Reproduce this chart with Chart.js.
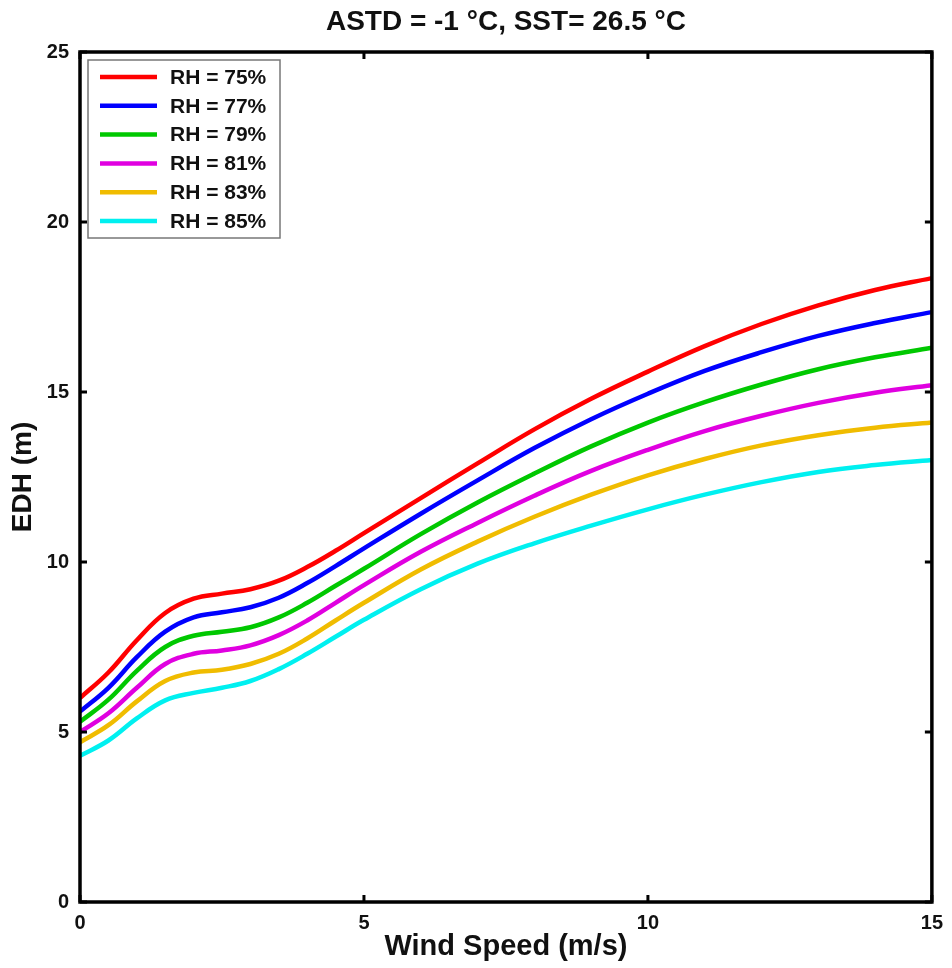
<!DOCTYPE html>
<html>
<head>
<meta charset="utf-8">
<script src="https://cdn.jsdelivr.net/npm/chart.js@4/dist/chart.umd.min.js"></script>
<style>
  html, body { margin:0; padding:0; background:#fff; }
  #wrap { width:952px; height:968px; }
</style>
</head>
<body>
<div id="wrap"><canvas id="edhChart" width="952" height="968"></canvas></div>
<script>
//Wind speed samples (m/s)
var windSpeed = [0, 0.5, 1, 1.5, 2, 2.5, 3, 3.5, 4, 4.5, 5, 6, 7, 8, 9, 10, 11, 12, 13, 14, 15];

//EDH (m), one array per relative humidity
var rh75 = [6.0, 6.75, 7.7, 8.5, 8.92, 9.07, 9.2, 9.45, 9.85, 10.33, 10.85, 11.88, 12.9, 13.9, 14.8, 15.6, 16.35, 17.0, 17.55, 18.0, 18.35];
var rh77 = [5.6, 6.3, 7.2, 7.95, 8.37, 8.52, 8.67, 8.95, 9.38, 9.88, 10.4, 11.42, 12.4, 13.35, 14.2, 14.95, 15.62, 16.17, 16.65, 17.03, 17.35];
var rh79 = [5.3, 5.95, 6.8, 7.5, 7.83, 7.95, 8.08, 8.37, 8.8, 9.3, 9.8, 10.82, 11.75, 12.6, 13.4, 14.1, 14.7, 15.22, 15.67, 16.02, 16.3];
var rh81 = [5.0, 5.55, 6.3, 7.0, 7.3, 7.4, 7.55, 7.85, 8.28, 8.8, 9.32, 10.3, 11.15, 11.95, 12.68, 13.3, 13.85, 14.3, 14.68, 14.98, 15.2];
var rh83 = [4.7, 5.2, 5.9, 6.5, 6.75, 6.83, 7.0, 7.3, 7.75, 8.28, 8.8, 9.78, 10.6, 11.33, 11.98, 12.55, 13.03, 13.43, 13.73, 13.95, 14.1];
var rh85 = [4.3, 4.75, 5.4, 5.93, 6.15, 6.3, 6.5, 6.85, 7.3, 7.8, 8.3, 9.2, 9.95, 10.55, 11.07, 11.55, 11.98, 12.35, 12.65, 12.85, 13.0];

var seriesLabels = ["RH = 75%", "RH = 77%", "RH = 79%", "RH = 81%", "RH = 83%", "RH = 85%"];
var seriesColors = ["#ff0000", "#0000ff", "#00c800", "#e000e0", "#f0bc00", "#00f0f0"];
var xTicks = [0, 5, 10, 15];
var yTicks = [0, 5, 10, 15, 20, 25];
var chartTitle = "ASTD = -1 \u00B0C, SST= 26.5 \u00B0C";

var fontName = "'Liberation Sans', Arial, sans-serif";

function toPoints(values){
  var pts = [];
  for(var i = 0; i < windSpeed.length; i++){
    pts.push({x: windSpeed[i], y: values[i]});
  }
  return pts;
}

var allSeries = [rh75, rh77, rh79, rh81, rh83, rh85];
var datasets = [];
for(var s = 0; s < allSeries.length; s++){
  datasets.push({
    label: seriesLabels[s],
    data: toPoints(allSeries[s]),
    borderColor: seriesColors[s],
    backgroundColor: seriesColors[s],
    borderWidth: 4.5,
    pointRadius: 0,
    tension: 0.4,
    fill: false
  });
}

//Draws the MATLAB style box, inward ticks, title and the legend inside the plot
var boxPlugin = {
  id: "matlabBox",
  afterDatasetsDraw: function(chart){
    var ctx = chart.ctx;
    var a = chart.chartArea;
    var xs = chart.scales.x;
    var ys = chart.scales.y;
    var tick = 7;

    ctx.save();
    ctx.strokeStyle = "#000";
    ctx.lineWidth = 3.5;
    ctx.strokeRect(a.left, a.top, a.right - a.left, a.bottom - a.top);

    ctx.lineWidth = 3;
    ctx.beginPath();
    xTicks.forEach(function(v){
      var px = xs.getPixelForValue(v);
      ctx.moveTo(px, a.bottom); ctx.lineTo(px, a.bottom - tick);
      ctx.moveTo(px, a.top); ctx.lineTo(px, a.top + tick);
    });
    yTicks.forEach(function(v){
      var py = ys.getPixelForValue(v);
      ctx.moveTo(a.left, py); ctx.lineTo(a.left + tick, py);
      ctx.moveTo(a.right, py); ctx.lineTo(a.right - tick, py);
    });
    ctx.stroke();

    //Title, centred over the plot box
    ctx.fillStyle = "#111";
    ctx.font = "bold 28px " + fontName;
    ctx.textAlign = "center";
    ctx.textBaseline = "middle";
    ctx.fillText(chartTitle, (a.left + a.right) / 2, 22);

    //Legend box
    var lx = a.left + 8, ly = a.top + 8, lw = 192, lh = 178;
    ctx.fillStyle = "#fff";
    ctx.fillRect(lx, ly, lw, lh);
    ctx.strokeStyle = "#777";
    ctx.lineWidth = 1.5;
    ctx.strokeRect(lx, ly, lw, lh);

    ctx.font = "bold 21px " + fontName;
    ctx.textBaseline = "middle";
    ctx.textAlign = "left";
    for(var i = 0; i < chart.data.datasets.length; i++){
      var ds = chart.data.datasets[i];
      var ry = ly + 17 + i * 28.8;
      ctx.strokeStyle = ds.borderColor;
      ctx.lineWidth = 4.5;
      ctx.beginPath();
      ctx.moveTo(lx + 12, ry);
      ctx.lineTo(lx + 69, ry);
      ctx.stroke();
      ctx.fillStyle = "#111";
      ctx.fillText(ds.label, lx + 82, ry + 1);
    }
    ctx.restore();
  }
};

new Chart(document.getElementById("edhChart"), {
  type: "line",
  data: {datasets: datasets},
  plugins: [boxPlugin],
  options: {
    responsive: false,
    animation: false,
    layout: {padding: {left: 0, right: 17, top: 52, bottom: 0}},
    plugins: {
      legend: {display: false},
      tooltip: {enabled: false},
      title: {display: false}
    },
    scales: {
      x: {
        type: "linear",
        min: 0,
        max: 15,
        afterFit: function(scale){ scale.height = 66; },
        afterBuildTicks: function(scale){
          scale.ticks = xTicks.map(function(v){ return {value: v}; });
        },
        grid: {display: false, drawTicks: false},
        border: {display: false},
        ticks: {
          color: "#111",
          padding: 9,
          maxRotation: 0,
          font: {family: fontName, size: 20, weight: "bold"}
        },
        title: {
          display: true,
          text: "Wind Speed (m/s)",
          color: "#111",
          padding: {top: 0, bottom: 4},
          font: {family: fontName, size: 29, weight: "bold"}
        }
      },
      y: {
        type: "linear",
        min: 0,
        max: 25,
        afterFit: function(scale){ scale.width = 80; },
        afterBuildTicks: function(scale){
          scale.ticks = yTicks.map(function(v){ return {value: v}; });
        },
        grid: {display: false, drawTicks: false},
        border: {display: false},
        ticks: {
          color: "#111",
          padding: 11,
          font: {family: fontName, size: 20, weight: "bold"}
        },
        title: {
          display: true,
          text: "EDH (m)",
          color: "#111",
          padding: {top: 6, bottom: 0},
          font: {family: fontName, size: 28, weight: "bold"}
        }
      }
    }
  }
});
</script>
</body>
</html>
